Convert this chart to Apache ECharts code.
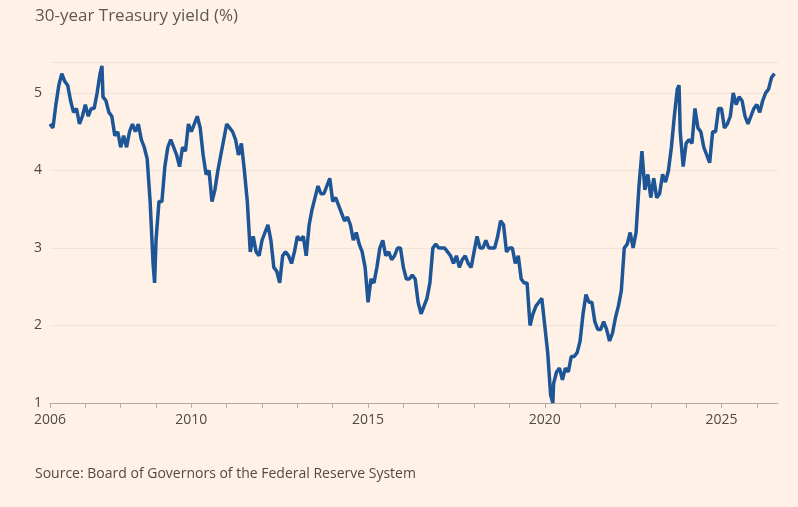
<!DOCTYPE html>
<html>
<head>
<meta charset="utf-8">
<script src="https://cdn.jsdelivr.net/npm/echarts@6/dist/echarts.min.js"></script>
<style>
  html, body { margin: 0; padding: 0; background: #fff1e5; }
  #chart { width: 798px; height: 507px; }
</style>
</head>
<body>
<div id="chart"></div>
<script>
// monthly 30-year yields, one array per year
const startYear = 2006;
const yields = [
  [4.6, 4.55, 4.85, 5.1, 5.25, 5.15, 5.1, 4.9, 4.75, 4.8, 4.6, 4.7],   // 2006
  [4.85, 4.7, 4.8, 4.8, 5.0, 5.25, 4.95, 4.9, 4.75, 4.7, 4.45, 4.5],  // 2007
  [4.3, 4.45, 4.3, 4.5, 4.6, 4.5, 4.6, 4.4, 4.3, 4.15, 3.6, 2.8],     // 2008
  [3.1, 3.6, 3.6, 4.05, 4.3, 4.4, 4.3, 4.2, 4.05, 4.3, 4.25, 4.6],    // 2009
  [4.5, 4.6, 4.7, 4.55, 4.2, 3.95, 4.0, 3.6, 3.75, 4.0, 4.2, 4.4],    // 2010
  [4.6, 4.55, 4.5, 4.4, 4.2, 4.35, 4.0, 3.6, 2.95, 3.15, 2.95, 2.9],  // 2011
  [3.1, 3.2, 3.3, 3.1, 2.75, 2.7, 2.55, 2.9, 2.95, 2.9, 2.8, 2.95],   // 2012
  [3.15, 3.1, 3.15, 2.9, 3.3, 3.5, 3.65, 3.8, 3.7, 3.7, 3.8, 3.9],    // 2013
  [3.6, 3.65, 3.55, 3.45, 3.35, 3.4, 3.3, 3.1, 3.2, 3.05, 2.95, 2.75],// 2014
  [2.3, 2.6, 2.55, 2.75, 3.0, 3.1, 2.9, 2.95, 2.85, 2.9, 3.0, 3.0],   // 2015
  [2.75, 2.6, 2.6, 2.65, 2.6, 2.3, 2.15, 2.25, 2.35, 2.55, 3.0, 3.05],// 2016
  [3.0, 3.0, 3.0, 2.95, 2.9, 2.8, 2.9, 2.75, 2.85, 2.9, 2.8, 2.75],   // 2017
  [2.95, 3.15, 3.0, 3.0, 3.1, 3.0, 3.0, 3.0, 3.15, 3.35, 3.3, 2.95],  // 2018
  [3.0, 3.0, 2.8, 2.9, 2.6, 2.55, 2.55, 2.0, 2.15, 2.25, 2.3, 2.35],  // 2019
  [2.0, 1.65, 1.1, 1.25, 1.4, 1.45, 1.3, 1.45, 1.4, 1.6, 1.6, 1.65],  // 2020
  [1.8, 2.15, 2.4, 2.3, 2.3, 2.05, 1.95, 1.95, 2.05, 1.95, 1.8, 1.9], // 2021
  [2.1, 2.25, 2.45, 3.0, 3.05, 3.2, 3.0, 3.2, 3.8, 4.25, 3.75, 3.95], // 2022
  [3.65, 3.9, 3.65, 3.7, 3.95, 3.85, 4.0, 4.3, 4.7, 5.05, 4.5, 4.05], // 2023
  [4.35, 4.4, 4.35, 4.8, 4.55, 4.5, 4.3, 4.2, 4.1, 4.5, 4.5, 4.8],    // 2024
  [4.8, 4.55, 4.6, 4.7, 5.0, 4.85, 4.95, 4.9, 4.7, 4.6, 4.7, 4.8],    // 2025
  [4.85, 4.75, 4.9, 5.0, 5.05, 5.2, 5.25]                             // 2026
];
// short-lived extremes that monthly readings miss
const spikes = [[2007.47, 5.35], [2008.96, 2.55], [2020.23, 1.0], [2023.8, 5.1]];
const labelYears = [2006, 2010, 2015, 2020, 2025];

const points = [];
yields.forEach((row, i) => {
  row.forEach((v, m) => points.push([startYear + i + m / 12, v]));
});
spikes.forEach(p => points.push(p));
points.sort((a, b) => a[0] - b[0]);

const chart = echarts.init(document.getElementById('chart'));
chart.setOption({
  backgroundColor: '#fff1e5',
  animation: false,
  title: [{
    text: '30-year Treasury yield (%)',
    left: 30, top: 3,
    textStyle: { fontFamily: 'Open Sans', fontSize: 17, fontWeight: 'normal', color: '#5c5853' }
  }, {
    text: 'Source: Board of Governors of the Federal Reserve System',
    left: 30, top: 462,
    textStyle: { fontFamily: 'Open Sans', fontSize: 14, fontWeight: 'normal', color: '#4f4a46' }
  }],
  grid: { left: 50, right: 20, top: 62, bottom: 104 },
  xAxis: {
    type: 'value', min: 2006, max: 2026.6, interval: 1,
    axisLine: { show: true, lineStyle: { color: '#b5aca5' } },
    axisTick: { show: true, length: 5, lineStyle: { color: '#b5aca5' } },
    splitLine: { show: false },
    axisLabel: {
      showMaxLabel: false,
      fontFamily: 'Open Sans', fontSize: 14, color: '#4f4a46', margin: 10,
      formatter: v => labelYears.includes(v) ? String(v) : ''
    }
  },
  yAxis: {
    type: 'value', min: 1, max: 5.4, interval: 1,
    axisLine: { show: false }, axisTick: { show: false },
    splitLine: { lineStyle: { color: '#f2e3d7' } },
    axisLabel: {
      showMaxLabel: false, margin: 8,
      fontFamily: 'Open Sans', fontSize: 14, color: '#4f4a46'
    }
  },
  series: [{
    type: 'line', data: points, showSymbol: false,
    lineStyle: { color: '#1d5597', width: 3.5 }
  }]
});
</script>
</body>
</html>
